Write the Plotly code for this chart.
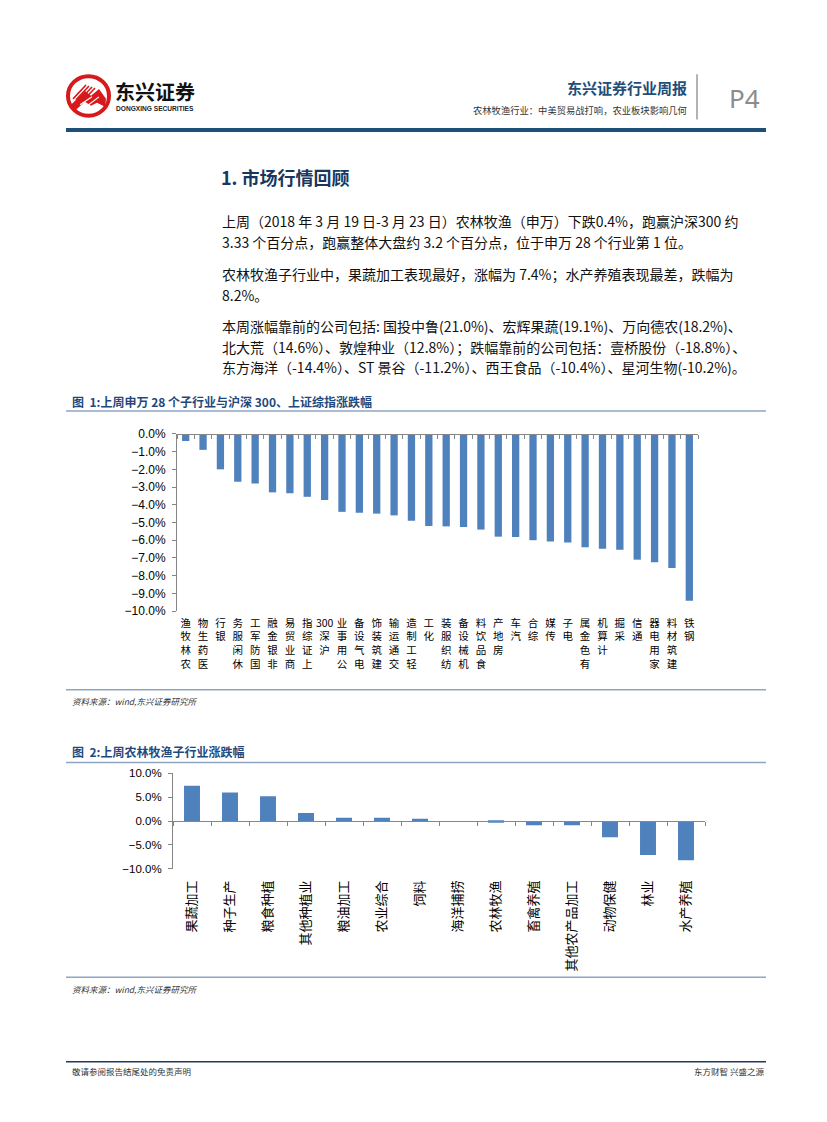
import plotly.graph_objects as go
import re

# ---------------- data ----------------
ind_names = ["农林牧渔", "医药生物", "银行", "休闲服务", "国防军工", "非银金融", "商业贸易",
             "上证综指", "沪深300", "公用事业", "电气设备", "建筑装饰", "交通运输", "轻工制造",
             "化工", "纺织服装", "机械设备", "食品饮料", "房地产", "汽车", "综合", "传媒",
             "电子", "有色金属", "计算机", "采掘", "通信", "家用电器", "建筑材料", "钢铁"]
ind_chg = [-0.4, -0.9, -2.0, -2.7, -2.8, -3.3, -3.35, -3.55, -3.73, -4.4, -4.45, -4.5,
           -4.6, -4.9, -5.2, -5.22, -5.26, -5.4, -5.8, -5.82, -6.0, -6.08, -6.13, -6.4,
           -6.48, -6.54, -7.1, -7.25, -7.57, -9.42]

sub_names = ["果蔬加工", "种子生产", "粮食种植", "其他种植业", "粮油加工", "农业综合", "饲料",
             "海洋捕捞", "农林牧渔", "畜禽养殖", "其他农产品加工", "动物保健", "林业", "水产养殖"]
sub_chg = [7.4, 6.0, 5.2, 1.7, 0.7, 0.7, 0.5, 0.0, -0.35, -0.9, -0.9, -3.4, -7.1, -8.2]

y1_range = [-10, 0]
y1_step = 1
y2_range = [-10, 10]
y2_step = 5

paragraph_lines = [
    "上周（2018 年 3 月 19 日-3 月 23 日）农林牧渔（申万）下跌0.4%，跑赢沪深300 约",
    "3.33 个百分点，跑赢整体大盘约 3.2 个百分点，位于申万 28 个行业第 1 位。",
    "农林牧渔子行业中，果蔬加工表现最好，涨幅为 7.4%；水产养殖表现最差，跌幅为",
    "8.2%。",
    "本周涨幅靠前的公司包括: 国投中鲁(21.0%)、宏辉果蔬(19.1%)、万向德农(18.2%)、",
    "北大荒（14.6%）、敦煌种业（12.8%）；跌幅靠前的公司包括：壹桥股份（-18.8%）、",
    "东方海洋（-14.4%）、ST 景谷（-11.2%）、西王食品（-10.4%）、星河生物(-10.2%)。",
]
paragraph_y = [217, 238, 270, 292, 323, 344, 365]

# ---------------- page geometry ----------------
W, H = 827, 1122
def X(px): return px / W
def Y(py): return 1 - py / H

CJK = "Noto Sans CJK SC"
LAT = "Liberation Sans, Noto Sans CJK SC"
BAR = "#4F81BD"
AX = "#868686"
NAVY = "#1F4E79"
TITLE_BLUE = "#1F497D"
RULE = "#8EA6C4"

def stack_vertical(name):
    tokens = re.findall(r"[0-9A-Za-z]+|.", name)
    return "<br>".join(reversed(tokens))

fig = go.Figure()

# chart 1 bars
fig.add_trace(go.Bar(x=ind_names, y=ind_chg, marker_color=BAR, marker_line_width=0,
                     xaxis="x", yaxis="y", showlegend=False, hoverinfo="skip"))
fig.add_trace(go.Scatter(x=ind_names, y=ind_chg, mode="none", xaxis="x3", yaxis="y",
                         showlegend=False, hoverinfo="skip"))
# chart 2 bars
fig.add_trace(go.Bar(x=sub_names, y=sub_chg, marker_color=BAR, marker_line_width=0,
                     xaxis="x2", yaxis="y2", showlegend=False, hoverinfo="skip"))
fig.add_trace(go.Scatter(x=sub_names, y=sub_chg, mode="none", xaxis="x4", yaxis="y2",
                         showlegend=False, hoverinfo="skip"))

d1x = [X(177), X(698)]
d1y = [Y(611.7), Y(432.3)]
d2x = [X(173), X(705)]
d2y = [Y(872.7), Y(776)]

common_y = dict(showline=True, linecolor=AX, linewidth=1, ticks="outside", ticklen=4,
                tickcolor=AX, showgrid=False, zeroline=False, tickformat=".1f",
                ticksuffix="%", tickmode="linear", ticklabelstandoff=4)

fig.update_layout(
    width=W, height=H, autosize=False,
    margin=dict(l=0, r=0, t=0, b=0),
    paper_bgcolor="white", plot_bgcolor="rgba(0,0,0,0)",
    bargap=0.58,
    xaxis=dict(domain=d1x, anchor="y", type="category", range=[-0.5, len(ind_names) - 0.5],
               showline=False, ticks="", tickangle=0, tickmode="array",
               tickvals=ind_names, ticktext=[stack_vertical(n) for n in ind_names],
               tickfont=dict(family=CJK, size=10.5, color="#000"),
               ticklabelstandoff=4, showgrid=False, zeroline=False),
    xaxis3=dict(domain=d1x, overlaying="x", anchor="free", position=Y(432.3), side="bottom",
                type="category", range=[-0.5, len(ind_names) - 0.5],
                showline=True, linecolor=AX, linewidth=1, ticks="outside", tickson="boundaries",
                ticklen=4, tickcolor=AX, showticklabels=False, showgrid=False, zeroline=False),
    yaxis=dict(domain=d1y, anchor="x", range=y1_range, dtick=y1_step, tick0=0,
               tickfont=dict(family=LAT, size=12, color="#000"), **common_y),
    xaxis2=dict(domain=d2x, anchor="y2", type="category", range=[-0.5, len(sub_names) - 0.5],
                showline=False, ticks="", tickangle=-90,
                tickfont=dict(family=CJK, size=13, color="#000"),
                ticklabelstandoff=8, showgrid=False, zeroline=False),
    xaxis4=dict(domain=d2x, overlaying="x2", anchor="free", position=Y(824.3), side="bottom",
                type="category", range=[-0.5, len(sub_names) - 0.5],
                showline=True, linecolor=AX, linewidth=1, ticks="outside", tickson="boundaries",
                ticklen=4, tickcolor=AX, showticklabels=False, showgrid=False, zeroline=False),
    yaxis2=dict(domain=d2y, anchor="x2", range=y2_range, dtick=y2_step, tick0=0,
                tickfont=dict(family=LAT, size=11.5, color="#000"), **common_y),
)

shapes = []
annotations = []

def line(x0, y0, x1, y1, color, width):
    shapes.append(dict(type="line", xref="paper", yref="paper", x0=X(x0), y0=Y(y0),
                       x1=X(x1), y1=Y(y1), line=dict(color=color, width=width)))

def text(s, x, y, size, color="#000", anchor="left", family=CJK, valign="middle"):
    annotations.append(dict(text=s, x=X(x), y=Y(y), xref="paper", yref="paper",
                            xanchor=anchor, yanchor=valign, showarrow=False,
                            font=dict(family=family, size=size, color=color)))

# ---- header ----
RED = "#D7191C"
shapes.append(dict(type="circle", xref="paper", yref="paper", x0=X(68), y0=Y(70),
                   x1=X(109), y1=Y(110), line=dict(color=RED, width=4), fillcolor="white"))
def P(pts):
    return "M " + " L ".join(f"{X(a):.5f},{Y(b):.5f}" for a, b in pts) + " Z"
shapes.append(dict(type="path", xref="paper", yref="paper",
                   path=P([(71, 99), (85, 85), (91, 90), (99, 83), (106, 93), (105, 101),
                           (97, 97), (91, 100), (85, 96), (76, 104)]),
                   fillcolor=RED, line=dict(width=0)))
for k in range(4):
    line(73 + 3 * k, 93 + 1 * k, 86 + 3 * k, 79 + 1 * k, RED, 1.6)
line(80, 99, 92, 91, "white", 1.2)
line(86, 101, 99, 91, "white", 1.2)

text("<b>东兴证券</b>", 113, 86, 20, "#111")
text("<b>DONGXING SECURITIES</b>", 113.5, 103, 6.6, "#222", family=LAT)

text("<b>东兴证券行业周报</b>", 689, 82, 15, NAVY, anchor="right")
text("农林牧渔行业：中美贸易战打响，农业板块影响几何", 689, 104, 9.3, "#333", anchor="right")
line(697, 68, 697, 114, "#9A9A9A", 1.5)
text("P4", 744, 92, 26, "#8C8C8C", anchor="center", family="Noto Sans, Liberation Sans")
line(66, 124.5, 766, 124.5, NAVY, 4)

# ---- section heading and paragraphs ----
text("<b>1. 市场行情回顾</b>", 219, 172, 18, "#17375E")
for s, yy in zip(paragraph_lines, paragraph_y):
    text(s, 220, yy, 14, "#111")

# ---- figure 1 title / rules ----
text("<b>图  1:上周申万 28 个子行业与沪深 300、上证综指涨跌幅</b>", 70, 399, 12, TITLE_BLUE)
line(66, 409, 766, 409, RULE, 1.5)
line(66, 691.5, 766, 691.5, RULE, 1.5)
text("<i>资料来源：wind,东兴证券研究所</i>", 70, 703, 8.5, "#333")

# ---- figure 2 title / rules ----
text("<b>图  2:上周农林牧渔子行业涨跌幅</b>", 70, 754, 12, TITLE_BLUE)
line(66, 765, 766, 765, RULE, 1.5)
line(66, 982.5, 766, 982.5, RULE, 1.5)
text("<i>资料来源：wind,东兴证券研究所</i>", 70, 994, 8.5, "#333")

# ---- footer ----
line(66, 1068, 766, 1068, "#1F3A5F", 1.5)
text("敬请参阅报告结尾处的免责声明", 70, 1077, 8.5, "#333")
text("东方财智 兴盛之源", 766, 1077, 8.5, "#333", anchor="right")

fig.update_layout(shapes=shapes, annotations=annotations)

fig.write_html("out.html", config={"displayModeBar": False},
               post_script="document.body.style.margin='0';document.body.style.overflow='hidden';")
